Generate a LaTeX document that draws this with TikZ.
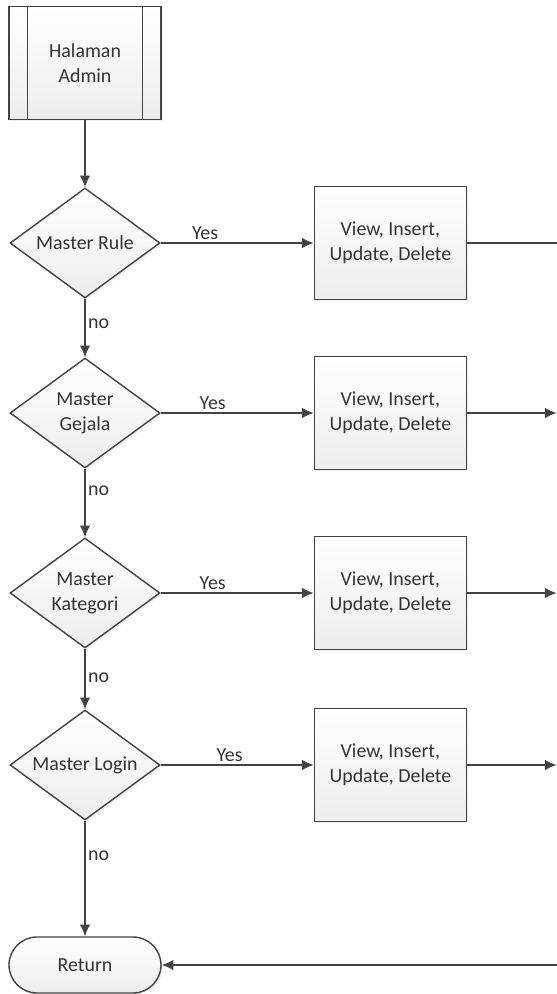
\documentclass[tikz,border=0pt]{standalone}
\usepackage{fontspec}
\setmainfont{Carlito}
\usetikzlibrary{shapes.geometric,arrows.meta,positioning,shadows}
\definecolor{garis}{HTML}{434343}
\definecolor{teks}{HTML}{333333}
\tikzset{
    huruf/.style={font=\fontsize{17}{21.5}\selectfont,text=teks},
    bayang/.style={drop shadow={opacity=0.12,shadow xshift=1.5pt,shadow yshift=-1.5pt}},
    proses/.style={rectangle,draw=garis,line width=1.2pt,top color=white,bottom color=gray!14,
        minimum width=4.56cm,minimum height=3.39cm,inner sep=0pt,align=center,huruf,bayang},
    keputusan/.style={diamond,draw=garis,line width=1.2pt,top color=white,bottom color=gray!14,
        minimum width=4.5cm,minimum height=3.3cm,inner sep=-12pt,align=center,huruf,bayang},
    terminal/.style={rectangle,rounded corners=0.84cm,draw=garis,line width=1.2pt,top color=white,bottom color=gray!14,
        minimum width=4.56cm,minimum height=1.68cm,inner sep=0pt,huruf,bayang},
    garisan/.style={draw=garis,line width=1.2pt},
    flecha/.style={garisan,-{Latex[length=10pt,width=9pt]}},
    ya/.style={above,inner sep=2pt,huruf},
    tidak/.style={right,inner sep=2pt,huruf},
}
\begin{document}
\begin{tikzpicture}
\useasboundingbox (0,0) rectangle (16.68,-29.82);
\coordinate (tepi) at (16.7,0);

\node[proses] (admin) at (2.55,-1.89) {Halaman\\Admin};
\draw[garisan] ([xshift=0.57cm]admin.north west) -- ([xshift=0.57cm]admin.south west);
\draw[garisan] ([xshift=-0.57cm]admin.north east) -- ([xshift=-0.57cm]admin.south east);

\node[keputusan] (rule)     at (2.55,-7.29)  {Master Rule};
\node[keputusan] (gejala)   at (2.55,-12.39) {Master\\Gejala};
\node[keputusan] (kategori) at (2.55,-17.79) {Master\\Kategori};
\node[keputusan] (login)    at (2.55,-22.95) {Master Login};
\node[terminal]  (return)   at (2.55,-28.95) {Return};

\node[proses,right=4.59cm of rule]     (crud1) {View, Insert,\\Update, Delete};
\node[proses,right=4.59cm of gejala]   (crud2) {View, Insert,\\Update, Delete};
\node[proses,right=4.59cm of kategori] (crud3) {View, Insert,\\Update, Delete};
\node[proses,right=4.59cm of login]    (crud4) {View, Insert,\\Update, Delete};

\draw[flecha] (admin) -- (rule);
\draw[flecha] (rule) -- node[ya,pos=0.29] {Yes} (crud1);
\draw[flecha] (rule) -- node[tidak,pos=0.42] {no} (gejala);
\draw[flecha] (gejala) -- node[ya,pos=0.34] {Yes} (crud2);
\draw[flecha] (gejala) -- node[tidak,pos=0.32] {no} (kategori);
\draw[flecha] (kategori) -- node[ya,pos=0.34] {Yes} (crud3);
\draw[flecha] (kategori) -- node[tidak,pos=0.48] {no} (login);
\draw[flecha] (login) -- node[ya,pos=0.45] {Yes} (crud4);
\draw[flecha] (login) -- node[tidak,pos=0.3] {no} (return);

\draw[garisan] (crud1) -- (crud1 -| tepi);
\draw[flecha] (crud2) -- (crud2 -| tepi);
\draw[flecha] (crud3) -- (crud3 -| tepi);
\draw[flecha] (crud4) -- (crud4 -| tepi);
\draw[flecha] (return -| tepi) -- (return);
\end{tikzpicture}
\end{document}
